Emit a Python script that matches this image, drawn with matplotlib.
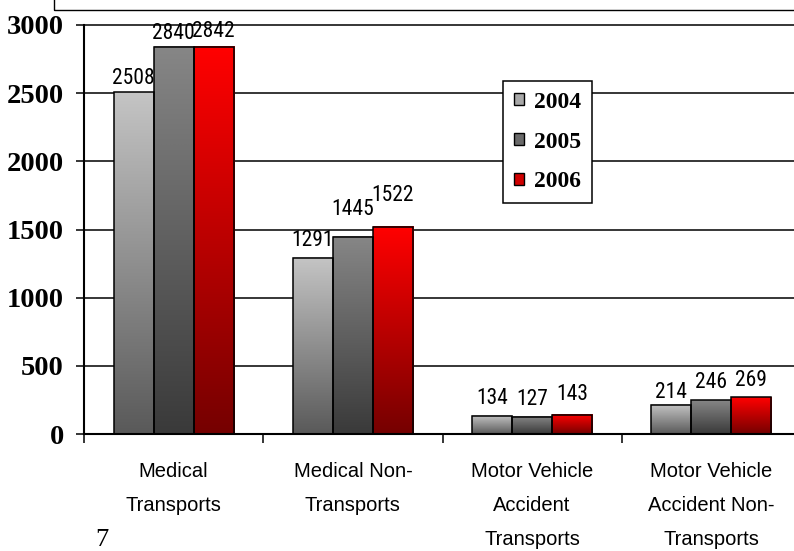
import numpy as np
import matplotlib.pyplot as plt
from matplotlib.patches import Patch, Rectangle
from matplotlib.colors import to_rgb

# Данные
categories = ['Medical\nTransports', 'Medical Non-\nTransports',
              'Motor Vehicle\nAccident\nTransports',
              'Motor Vehicle\nAccident Non-\nTransports']
years = ['2004', '2005', '2006']
v2004 = [2508, 1291, 134, 214]
v2005 = [2840, 1445, 127, 246]
v2006 = [2842, 1522, 143, 269]
yticks = [0, 500, 1000, 1500, 2000, 2500, 3000]

# Стиль: градиент сверху вниз, цвет легенды, сдвиг подписей (px)
grad_colors = [('#C4C4C4', '#5A5A5A'), ('#868686', '#3A3A3A'), ('#FF0000', '#760000')]
legend_colors = ['#A8A8A8', '#6A6A6A', '#D00000']
label_dy = [[14, 17.5, 17.5, 12.5],
            [13, 27, 17, 18],
            [15.5, 31.5, 20, 17]]

narrow = ['Roboto Condensed', 'Liberation Sans Narrow', 'Liberation Sans']
serif = ['Liberation Serif', 'DejaVu Serif']

fig = plt.figure(figsize=(7.94, 5.51), dpi=100)
ax = fig.add_axes([84/794, 117/551, 717/794, 409/551])

x = np.arange(len(categories))
w = 0.2235
for i, vals in enumerate([v2004, v2005, v2006]):
    xs = x + (i - 1) * w
    bars = ax.bar(xs, vals, w, facecolor='none', edgecolor='black', linewidth=1.1, zorder=3)
    top, bot = np.array(to_rgb(grad_colors[i][0])), np.array(to_rgb(grad_colors[i][1]))
    t = np.linspace(0, 1, 64)[:, None, None]
    grad = top * (1 - t) + bot * t
    for b in bars:
        ax.imshow(grad, extent=(b.get_x(), b.get_x() + w, 0, b.get_height()),
                  aspect='auto', origin='upper', interpolation='bilinear', zorder=2)
    for xi, v, dy in zip(xs, vals, label_dy[i]):
        ax.annotate(str(v), (xi, v), xytext=(0, dy * 0.72), textcoords='offset points',
                    ha='center', va='center', fontsize=15.5, family=narrow, zorder=4)

ax.set_xlim(-0.5, 3.5)
ax.set_ylim(0, 3000)

# Оси и сетка
ax.set_yticks(yticks)
ax.set_yticklabels([str(v) for v in yticks], family=serif, fontweight='bold', fontsize=20.5)
ax.tick_params(axis='y', length=6, width=1.1, pad=8.5, color='black')
ax.set_xticks([-0.5, 0.5, 1.5, 2.5])
ax.set_xticklabels([])
ax.set_xticks(x, minor=True)
ax.set_xticklabels(categories, minor=True, family=['Liberation Sans'], fontsize=14.5)
ax.tick_params(axis='x', which='major', length=6.5, width=1.1)
ax.tick_params(axis='x', which='minor', length=0, pad=20)
for lbl in ax.get_xticklabels(minor=True):
    lbl.set_linespacing(2.0)

ax.yaxis.grid(True, color='black', linewidth=1.1)
ax.set_axisbelow(True)
for gl in ax.get_ygridlines():
    gl.set_clip_on(False)

for s in ['top', 'right']:
    ax.spines[s].set_visible(False)
for s in ['left', 'bottom']:
    ax.spines[s].set_linewidth(1.5)
    ax.spines[s].set_color('black')

# Легенда
handles = [Patch(facecolor=c, edgecolor='black', linewidth=1) for c in legend_colors]
leg = ax.legend(handles, years, loc='upper left', bbox_to_anchor=(503/794, 1 - 81/551),
                bbox_transform=fig.transFigure, borderaxespad=0, fancybox=False,
                framealpha=1, edgecolor='black',
                prop={'family': serif, 'weight': 'bold', 'size': 17},
                handlelength=0.42, handleheight=0.42, handletextpad=0.45,
                borderpad=0.45, labelspacing=0.8)
leg.get_frame().set_linewidth(1.1)
leg.set_zorder(6)

# Рамка сверху и номер страницы
fig.add_artist(Rectangle((54/794, 1 - 9.5/551), 1, 1, transform=fig.transFigure,
                         fill=False, edgecolor='black', linewidth=1))
fig.text(95/794, 5/551, '7', family=serif, fontsize=19, va='baseline')

fig.savefig('out.png', dpi=100)
